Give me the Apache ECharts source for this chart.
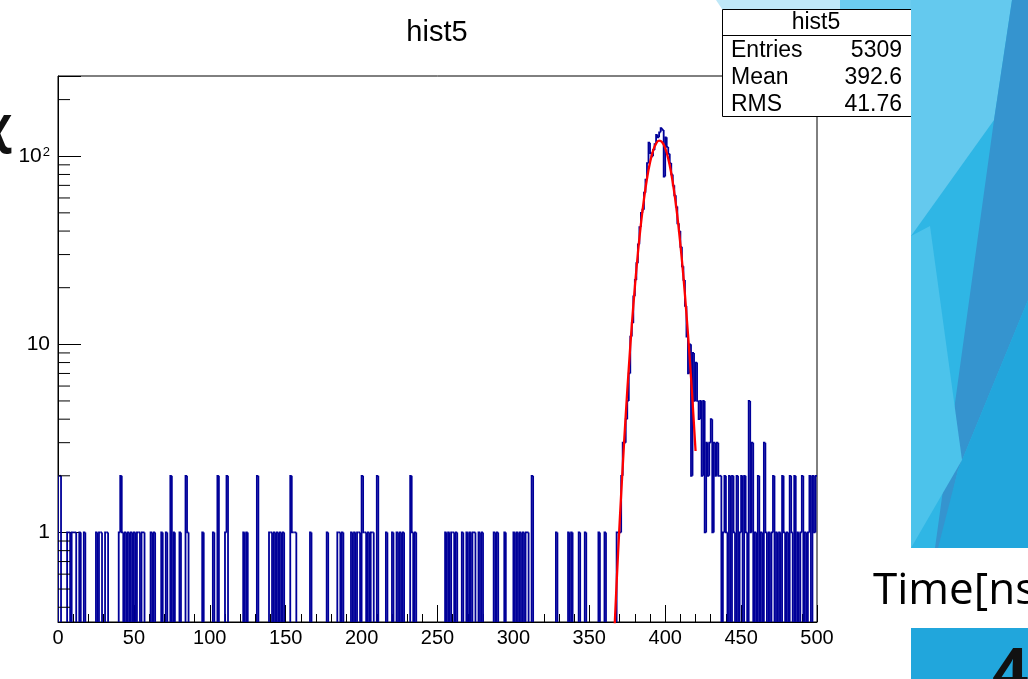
<!DOCTYPE html>
<html>
<head>
<meta charset="utf-8">
<script src="https://cdn.jsdelivr.net/npm/echarts@6/dist/echarts.min.js"></script>
<style>
  html, body { margin: 0; padding: 0; background: #fff; overflow: hidden; }
  #chart { width: 1028px; height: 679px; }
</style>
</head>
<body>
<div id="chart"></div>
<script>
// ---- histogram "hist5": 500 bins of 1 ns, counts per bin ----
const histTitle = 'hist5';
const binStart = 0;
const binWidth = 1;
const counts = [
  2,2,0,0,0,0,1,1,0,1,   1,1,0,0,1,0,0,1,0,0,   0,0,0,0,0,1,0,1,1,0,   0,1,1,0,0,0,0,0,0,0,   1,2,1,0,1,0,1,0,1,0,
  1,0,1,1,0,1,1,0,0,0,   0,1,0,1,0,0,0,0,1,0,   0,1,0,0,2,0,1,0,0,0,   1,0,0,0,2,1,0,0,0,0,   0,0,0,0,0,1,0,0,0,0,
  0,0,1,0,0,2,0,0,0,0,   1,2,0,0,0,0,0,0,0,0,   0,0,1,0,1,0,0,0,0,0,   0,2,0,0,0,0,0,0,0,1,   1,0,1,0,1,0,1,0,1,0,
  0,0,0,2,1,1,1,0,0,0,   0,0,0,0,0,0,1,0,0,0,   0,0,0,0,0,0,0,1,0,0,   0,0,0,0,1,1,0,1,0,0,   0,0,0,1,0,1,0,1,1,0,
  2,1,1,0,1,0,1,1,0,0,   2,0,0,0,0,0,1,0,0,0,   1,0,0,1,0,1,0,1,0,0,   0,0,2,1,0,1,0,0,0,0,   0,0,0,0,0,0,0,0,0,0,
  0,0,0,0,0,1,0,1,0,1,   1,0,1,0,0,0,1,0,0,1,   0,1,0,1,1,0,0,1,0,1,   0,0,0,0,0,0,0,1,0,1,   0,0,0,0,1,0,0,0,0,0,
  1,0,1,0,1,0,1,0,1,1,   0,0,2,0,0,0,0,0,0,0,   0,0,0,0,0,0,0,0,1,0,   0,0,0,0,0,0,1,0,1,0,   0,0,0,1,0,0,0,1,0,0,
  0,0,0,0,0,0,1,0,0,0,   1,0,0,0,0,0,0,0,1,1,   1,2,3,3,4,5,7,11,13,18,   22,27,34,42,50,52,64,75,92,118,   104,100,108,116,130,126,134,141,138,78,
  126,112,103,92,80,70,62,54,44,40,   33,26,22,16,11,7,10,2,9,5,   8,5,4,5,2,5,1,3,2,3,   4,1,3,2,3,2,2,0,1,2,   1,0,2,0,2,1,0,2,0,1,
  2,0,2,1,0,5,1,3,0,1,   0,2,0,1,0,3,1,0,1,0,   1,2,0,1,0,1,0,2,1,0,   1,0,2,1,0,2,0,1,0,1,   2,0,1,0,1,2,0,2,1,2
];

// ---- gaussian fit curve, sampled every 2 ns ----
const fitX = [366,368,370,372,374,376,378,380,382,384,386,388,390,392,394,396,398,400,402,404,406,408,410,412,414,416,418,420];
const fitY = [0.24,0.54,1.13,2.23,4.19,7.46,12.6,20.1,30.4,43.5,59.0,75.9,92.5,106.8,116.7,121,118.7,110.3,97.1,81.0,64.0,48.0,34.0,22.9,14.5,8.77,5.01,2.71];

// ---- axes ----
const xTickValues = [0,50,100,150,200,250,300,350,400,450,500];
const yMinorTicks = [0.4,0.5,0.6,0.7,0.8,0.9, 2,3,4,5,6,7,8,9, 20,30,40,50,60,70,80,90, 200];

// ---- statistics box ----
const statsNames = ['Entries', 'Mean', 'RMS'];
const statsValues = ['5309', '392.6', '41.76'];

const Y_MIN = 0.334, Y_MAX = 267;
const X_MIN = 0, X_MAX = 500;
const HIST_COLOR = '#000099';
const FONT = '"Liberation Sans", Arial, Helvetica, sans-serif';
const SLIDE_FONT = '"Open Sans", "Noto Sans", sans-serif';

const histData = counts.map((c, i) => [binStart + i * binWidth, c]);
const fitData = fitX.map((x, i) => [x, fitY[i]]);

const chart = echarts.init(document.getElementById('chart'), null, { renderer: 'canvas' });

const yLabel = v => {
  const l = Math.log10(v);
  const e = Math.round(l);
  if (Math.abs(l - e) > 1e-6) return '';
  if (e === 0) return '1';
  if (e === 1) return '10';
  return '{b|10}{s|' + e + '}';
};

// slide decoration shapes
const slideShapes = [
  { pts: [[911,0],[1028,0],[1028,548],[911,548]], c: '#2fb6e5' },
  { pts: [[911,0],[1012,0],[994,120],[911,236]], c: '#64c9ee' },
  { pts: [[1012,0],[1028,0],[1028,300],[958,470],[940,548],[935,548],[994,120]], c: '#3594cf' },
  { pts: [[1028,300],[1028,548],[938,548],[958,470]], c: '#22a6dc' },
  { pts: [[911,236],[930,226],[962,460],[911,548]], c: '#4cc3eb' },
  { pts: [[716,0],[840,0],[840,9],[722,9]], c: '#bfe8f8' },
  { pts: [[840,0],[911,0],[911,9],[840,9]], c: '#6ccdf0' },
  { pts: [[911,628],[1028,628],[1028,679],[911,679]], c: '#21a6dc' }
];

const graphics = [];
// statistics box
graphics.push({ type: 'rect', z: 100, shape: { x: 722.5, y: 9.5, width: 200, height: 107 }, style: { fill: '#fff', stroke: '#000', lineWidth: 1 } });
graphics.push({ type: 'line', z: 100, shape: { x1: 722.5, y1: 35.5, x2: 922, y2: 35.5 }, style: { stroke: '#000', lineWidth: 1 } });
graphics.push({ type: 'text', z: 101, x: 816, y: 23, style: { text: histTitle, font: '23px ' + FONT, fill: '#000', align: 'center', verticalAlign: 'middle' } });
statsNames.forEach((n, i) => {
  const y = 51 + i * 26.8;
  graphics.push({ type: 'text', z: 101, x: 731, y, style: { text: n, font: '23px ' + FONT, fill: '#000', align: 'left', verticalAlign: 'middle' } });
  graphics.push({ type: 'text', z: 101, x: 902, y, style: { text: statsValues[i], font: '23px ' + FONT, fill: '#000', align: 'right', verticalAlign: 'middle' } });
});
// histogram title
graphics.push({ type: 'text', z: 100, x: 437, y: 33, style: { text: histTitle, font: '29px ' + FONT, fill: '#000', align: 'center', verticalAlign: 'middle' } });
// slide background pieces
slideShapes.forEach(s => graphics.push({ type: 'polygon', z: 110, shape: { points: s.pts }, style: { fill: s.c } }));
// slide text
graphics.push({ type: 'text', z: 111, x: 873, y: 591, style: { text: 'Time[ns]', font: '44px ' + SLIDE_FONT, fill: '#000', align: 'left', verticalAlign: 'middle' } });
graphics.push({ type: 'text', z: 111, x: 992, y: 644, style: { text: '4', font: 'bold 64px ' + SLIDE_FONT, fill: '#111', align: 'left', verticalAlign: 'top' } });
graphics.push({ type: 'text', z: 111, x: 11, y: 128, style: { text: '\u03c7', font: 'bold 50px ' + SLIDE_FONT, fill: '#111', align: 'right', verticalAlign: 'middle' } });

chart.setOption({
  animation: false,
  backgroundColor: '#fff',
  grid: { left: 58, top: 76, width: 759, height: 546, show: true, borderColor: '#000', borderWidth: 1, backgroundColor: '#fff' },
  xAxis: {
    type: 'value', min: X_MIN, max: X_MAX, interval: 50,
    axisLine: { lineStyle: { color: '#000', width: 1 } },
    axisTick: { inside: true, length: 17, lineStyle: { color: '#000' } },
    minorTick: { show: true, splitNumber: 5, length: 8, lineStyle: { color: '#000' } },
    splitLine: { show: false },
    axisLabel: { color: '#000', fontSize: 20, fontFamily: FONT, margin: 6,
      formatter: v => (xTickValues.indexOf(v) >= 0 ? String(v) : '') }
  },
  yAxis: {
    type: 'log', logBase: 10, min: Y_MIN, max: Y_MAX,
    axisLine: { lineStyle: { color: '#000', width: 1 } },
    axisTick: { inside: true, length: 23, lineStyle: { color: '#000' } },
    splitLine: { show: false },
    axisLabel: {
      color: '#000', fontSize: 21, fontFamily: FONT, margin: 8,
      formatter: yLabel,
      rich: {
        b: { fontSize: 21, fontFamily: FONT, color: '#000' },
        s: { fontSize: 13, fontFamily: FONT, color: '#000', verticalAlign: 'top', padding: [0, 0, 0, 1] }
      }
    }
  },
  series: [
    {
      name: 'hist5',
      type: 'custom',
      clip: true,
      silent: true,
      z: 3,
      data: histData,
      encode: { x: 0, y: 1 },
      renderItem(params, api) {
        const i = params.dataIndex;
        const x0 = api.value(0);
        const c = api.value(1);
        const prev = i > 0 ? counts[i - 1] : 0;
        const yv = v => (v > 0 ? v : Y_MIN);
        const pA = api.coord([x0, yv(prev)]);
        const pB = api.coord([x0, yv(c)]);
        const pts = [pA, pB];
        if (c > 0) pts.push(api.coord([x0 + binWidth, yv(c)]));
        return { type: 'polyline', shape: { points: pts }, style: { stroke: HIST_COLOR, lineWidth: 1.8, fill: null } };
      }
    },
    {
      name: 'fit',
      type: 'line',
      data: fitData,
      smooth: true,
      clip: true,
      showSymbol: false,
      symbol: 'none',
      z: 4,
      lineStyle: { color: '#ff0000', width: 2.3 }
    },
    {
      name: 'yMinorTicks',
      type: 'custom',
      silent: true,
      z: 5,
      data: yMinorTicks.map(v => [X_MIN, v]),
      encode: { x: 0, y: 1 },
      renderItem(params, api) {
        const p = api.coord([api.value(0), api.value(1)]);
        return { type: 'line', shape: { x1: p[0], y1: p[1], x2: p[0] + 12, y2: p[1] }, style: { stroke: '#000', lineWidth: 1 } };
      }
    }
  ],
  graphic: graphics
});
</script>
</body>
</html>
